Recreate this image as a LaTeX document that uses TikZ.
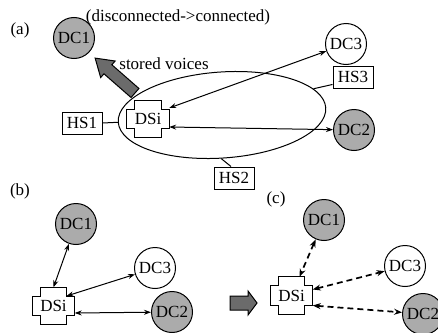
\documentclass[tikz,border=0pt]{standalone}
\usepackage{fontspec}
\setmainfont{Liberation Serif}
\usetikzlibrary{arrows.meta,shadows,calc,shapes.geometric}

\newcommand\lblfont{\fontsize{17}{20}\selectfont}
% outline of a DS node: a cross with short arms
\newcommand\dscross[1]{%
  \draw[line width=1pt]
    ([xshift=8pt]#1.north west) -- ([xshift=-8pt]#1.north east)
    -- ([xshift=-8pt,yshift=-9pt]#1.north east) -- ([yshift=-9pt]#1.north east)
    -- ([yshift=9pt]#1.south east) -- ([xshift=-8pt,yshift=9pt]#1.south east)
    -- ([xshift=-8pt]#1.south east) -- ([xshift=8pt]#1.south west)
    -- ([xshift=8pt,yshift=9pt]#1.south west) -- ([yshift=9pt]#1.south west)
    -- ([yshift=-9pt]#1.north west) -- ([xshift=8pt,yshift=-9pt]#1.north west)
    -- cycle;}

\tikzset{
  lbl/.style={font=\lblfont, inner sep=0pt},
  dcnode/.style={circle, draw, line width=1pt, minimum size=41pt, inner sep=0pt, font=\lblfont},
  dcgray/.style={dcnode, fill=black!33},
  hsbox/.style={draw, fill=white, line width=1pt, minimum width=40pt, minimum height=22pt,
    inner sep=1pt, font=\lblfont,
    drop shadow={shadow xshift=1pt, shadow yshift=-1pt, fill=black, opacity=1}},
  dsnode/.style={minimum width=42pt, minimum height=37pt, inner sep=0pt, font=\lblfont},
  conn/.style={line width=1pt, {Stealth[length=7pt,width=5pt]}-{Stealth[length=7pt,width=5pt]}},
  dconn/.style={line width=1.7pt, dash pattern=on 6pt off 4pt,
    {Stealth[length=8pt,width=6pt]}-{Stealth[length=8pt,width=6pt]}},
  link/.style={line width=1pt},
  bigarrow/.style={draw, line width=1pt, fill=black!58},
}

\begin{document}
\begin{tikzpicture}[x=1pt, y=-1pt]
\useasboundingbox[fill=white] (0,0) rectangle (438,332);

% ---------------- (a) ----------------
\node[lbl] (la) at (20,30) {(a)};
\node[lbl] (state) at (178,17) {(disconnected->connected)};
\node[lbl] (stored) at (164,64) {stored voices};

\node[ellipse, draw, line width=1pt, minimum width=208pt, minimum height=86pt,
      inner sep=0pt, rotate=4] (ell) at (222,115) {};

\node[dcgray] (dc1a) at (74,38) {DC1};
\node[dcnode] (dc3a) at (346,44) {DC3};
\node[dcgray] (dc2a) at (354,130) {DC2};

\node[dsnode] (dsia) at (148,119) {DSi};
\dscross{dsia}

\node[hsbox] (hs1) at (82,123) {HS1};
\node[hsbox] (hs3) at (353,77) {HS3};
\node[hsbox] (hs2) at (234,178) {HS2};

\draw[link] (hs1.east) -- (ell.west);
\draw[link] (hs3.200) -- (ell.12);
\draw[link] (ell.-95) -- ([xshift=-3pt]hs2.north);

\draw[conn] ([yshift=11pt]dsia.east) -- (dc3a);
\draw[conn] ([yshift=-8pt]dsia.east) -- (dc2a);

% broad arrow carrying the stored voices
\begin{scope}[shift={(135,93)}, rotate=138.8]
  \draw[bigarrow] (0,-6) -- (36,-6) -- (36,-11) -- (53,0) -- (36,11) -- (36,6) -- (0,6) -- cycle;
\end{scope}

% ---------------- (b) ----------------
\node[lbl] (lb) at (20,191) {(b)};
\node[dcgray] (dc1b) at (76,224) {DC1};
\node[dcnode] (dc3b) at (155,268) {DC3};
\node[dcgray] (dc2b) at (172,312) {DC2};
\node[dsnode] (dsib) at (53.5,306) {DSi};
\dscross{dsib}

\draw[conn] (dc1b) -- (dsib.north);
\draw[conn] ([xshift=13pt,yshift=10pt]dsib.center) -- (dc3b);
\draw[conn] ([yshift=-7pt]dsib.east) -- (dc2b);

% transition arrow
\draw[bigarrow] (230,296) -- (248,296) -- (248,291) -- (257,303) -- (248,315) -- (248,310) -- (230,310) -- cycle;

% ---------------- (c) ----------------
\node[lbl] (lc) at (276,199) {(c)};
\node[dcgray] (dc1c) at (324,220) {DC1};
\node[dcnode] (dc3c) at (405,266) {DC3};
\node[dcgray] (dc2c) at (423,314) {DC2};
\node[dsnode] (dsic) at (291.5,295.5) {DSi};
\dscross{dsic}

\draw[dconn] (dc1c) -- ([xshift=8pt]dsic.north);
\draw[dconn] ([yshift=6pt]dsic.east) -- (dc3c);
\draw[dconn] ([yshift=-10pt]dsic.east) -- (dc2c);
\end{tikzpicture}
\end{document}
